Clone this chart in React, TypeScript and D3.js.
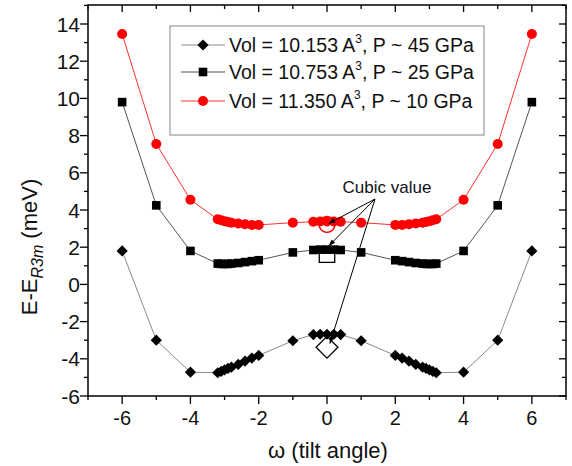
import React from "react";
import * as d3 from "d3";

const W = 572;
const H = 466;

const xValues = [
  -6, -5, -4,
  -3.2, -3.1, -3.0, -2.9, -2.8, -2.6, -2.4, -2.2, -2.0,
  -1,
  -0.4, -0.2, 0, 0.2, 0.4,
  1,
  2.0, 2.2, 2.4, 2.6, 2.8, 2.9, 3.0, 3.1, 3.2,
  4, 5, 6,
];

const vol10153 = [
  1.8, -3.0, -4.72,
  -4.75, -4.68, -4.6, -4.52, -4.45, -4.3, -4.12, -3.96, -3.82,
  -3.03,
  -2.7, -2.68, -2.68, -2.68, -2.7,
  -3.03,
  -3.82, -3.96, -4.12, -4.3, -4.45, -4.52, -4.6, -4.68, -4.75,
  -4.72, -3.0, 1.8,
];

const vol10753 = [
  9.8, 4.25, 1.8,
  1.12, 1.1, 1.1, 1.1, 1.12, 1.15, 1.2, 1.25, 1.3,
  1.72,
  1.85, 1.87, 1.87, 1.87, 1.85,
  1.72,
  1.3, 1.25, 1.2, 1.15, 1.12, 1.1, 1.1, 1.1, 1.12,
  1.8, 4.25, 9.8,
];

const vol11350 = [
  13.46, 7.55, 4.55,
  3.5, 3.45, 3.4, 3.36, 3.32, 3.27, 3.23, 3.2, 3.2,
  3.32,
  3.37, 3.38, 3.38, 3.38, 3.37,
  3.32,
  3.2, 3.2, 3.23, 3.27, 3.32, 3.36, 3.4, 3.45, 3.5,
  4.55, 7.55, 13.46,
];

const cubicX = 0;
const cubicValues = { diamond: -3.38, square: 1.6, circle: 3.23 };

const legendLabels = [
  { vol: "Vol = 10.153 A", p: ", P ~ 45 GPa" },
  { vol: "Vol = 10.753 A", p: ", P ~ 25 GPa" },
  { vol: "Vol = 11.350 A", p: ", P ~ 10 GPa" },
];

const xMajorTicks = [-6, -4, -2, 0, 2, 4, 6];
const yMajorTicks = [-6, -4, -2, 0, 2, 4, 6, 8, 10, 12, 14];

const FONT = "'Liberation Sans', Arial, Helvetica, sans-serif";

const left = 88;
const right = 566;
const top = 5;
const bottom = 396;

function Marker({ kind, x, y, fill = "#000", stroke = "none", size = 1, strokeWidth = 1 }: any) {
  if (kind === "diamond") {
    const r = 5.6 * size;
    return (
      <path
        d={`M${x},${y - r}L${x + r},${y}L${x},${y + r}L${x - r},${y}Z`}
        fill={fill}
        stroke={stroke}
        strokeWidth={strokeWidth}
      />
    );
  }
  if (kind === "square") {
    const s = 4.3 * size;
    return <rect x={x - s} y={y - s} width={2 * s} height={2 * s} fill={fill} stroke={stroke} strokeWidth={strokeWidth} />;
  }
  return <circle cx={x} cy={y} r={5 * size} fill={fill} stroke={stroke} strokeWidth={strokeWidth} />;
}

export default function App() {
  const x = d3.scaleLinear().domain([-7, 7]).range([left, right]);
  const y = d3.scaleLinear().domain([-6, 14]).range([bottom, 24]);

  const series = [
    { data: vol10153, kind: "diamond", line: "#8a8a8a", fill: "#000" },
    { data: vol10753, kind: "square", line: "#555", fill: "#000" },
    { data: vol11350, kind: "circle", line: "#ff3030", fill: "#ff0000" },
  ];

  const line = d3
    .line<number>()
    .x((_, i) => x(xValues[i]))
    .y((d) => y(d));

  const xMinor = d3.range(-7, 7.01, 1).filter((v) => !xMajorTicks.includes(v));
  const yMinor = d3.range(-5, 15.01, 1).filter((v) => !yMajorTicks.includes(v) && y(v) >= top);

  const arrowStart = { x: 375, y: 199 };
  const arrowTargets = [
    { x: x(cubicX) + 2, y: y(cubicValues.circle) - 1 },
    { x: x(cubicX) + 2, y: y(cubicValues.square) - 9 },
    { x: x(cubicX) + 3, y: y(cubicValues.diamond) - 4 },
  ];

  return (
    <svg
      width={W}
      height={H}
      style={{ position: "absolute", left: 0, top: 0, background: "#fff" }}
      fontFamily={FONT}
    >
      <defs>
        <marker id="ah" viewBox="0 0 10 10" refX="9" refY="5" markerWidth="7" markerHeight="7" orient="auto">
          <path d="M0,1.5L10,5L0,8.5Z" fill="#000" />
        </marker>
      </defs>
      <rect x={0} y={0} width={W} height={H} fill="#fff" />

      {series.map((s, k) => (
        <path key={"l" + k} d={line(s.data) || ""} fill="none" stroke={s.line} strokeWidth={1} />
      ))}
      {series.map((s, k) =>
        s.data.map((v, i) => (
          <Marker key={`m${k}-${i}`} kind={s.kind} x={x(xValues[i])} y={y(v)} fill={s.fill} />
        ))
      )}

      <Marker kind="diamond" x={x(cubicX)} y={y(cubicValues.diamond)} fill="none" stroke="#000" size={1.95} strokeWidth={1.3} />
      <Marker kind="square" x={x(cubicX)} y={y(cubicValues.square)} fill="none" stroke="#000" size={1.8} strokeWidth={1.3} />
      <Marker kind="circle" x={x(cubicX)} y={y(cubicValues.circle)} fill="none" stroke="#ff0000" size={1.6} strokeWidth={1.3} />

      {arrowTargets.map((t, i) => (
        <line
          key={"a" + i}
          x1={arrowStart.x}
          y1={arrowStart.y}
          x2={t.x}
          y2={t.y}
          stroke="#000"
          strokeWidth={1}
          markerEnd="url(#ah)"
        />
      ))}
      <text x={387} y={193} textAnchor="middle" fontSize={17} fill="#111">
        Cubic value
      </text>

      <rect x={left} y={top} width={right - left} height={bottom - top} fill="none" stroke="#000" strokeWidth={1.5} />

      {xMajorTicks.map((t) => (
        <g key={"xt" + t}>
          <line x1={x(t)} x2={x(t)} y1={bottom} y2={bottom + 8} stroke="#000" strokeWidth={1.3} />
          <line x1={x(t)} x2={x(t)} y1={top} y2={top + 7} stroke="#000" strokeWidth={1.3} />
          <text x={x(t)} y={425} textAnchor="middle" fontSize={20} fill="#111">
            {t}
          </text>
        </g>
      ))}
      {xMinor.map((t) => (
        <g key={"xm" + t}>
          <line x1={x(t)} x2={x(t)} y1={bottom} y2={bottom + 4} stroke="#000" strokeWidth={1.3} />
          <line x1={x(t)} x2={x(t)} y1={top} y2={top + 4} stroke="#000" strokeWidth={1.3} />
        </g>
      ))}

      {yMajorTicks.map((t) => (
        <g key={"yt" + t}>
          <line x1={left - 8} x2={left} y1={y(t)} y2={y(t)} stroke="#000" strokeWidth={1.3} />
          <line x1={right - 7} x2={right} y1={y(t)} y2={y(t)} stroke="#000" strokeWidth={1.3} />
          <text x={80} y={y(t) + 7.5} textAnchor="end" fontSize={21} fill="#111">
            {t}
          </text>
        </g>
      ))}
      {yMinor.map((t) => (
        <g key={"ym" + t}>
          <line x1={left - 4} x2={left} y1={y(t)} y2={y(t)} stroke="#000" strokeWidth={1.3} />
          <line x1={right - 4} x2={right} y1={y(t)} y2={y(t)} stroke="#000" strokeWidth={1.3} />
        </g>
      ))}

      <text x={328} y={458} textAnchor="middle" fontSize={22} fill="#111">
        ω (tilt angle)
      </text>
      <text transform="translate(37,247) rotate(-90)" textAnchor="middle" fontSize={22} fill="#111">
        E-E
        <tspan fontStyle="italic" fontSize={16} dy={6}>
          R3m
        </tspan>
        <tspan dy={-6}> (meV)</tspan>
      </text>

      <rect x={170} y={26} width={314} height={109} fill="#fff" stroke="#888" strokeWidth={1} />
      {series.map((s, k) => {
        const ly = [45, 72, 101][k];
        return (
          <g key={"lg" + k}>
            <line x1={181} x2={225} y1={ly} y2={ly} stroke={s.line} strokeWidth={1} />
            <Marker kind={s.kind} x={203} y={ly} fill={s.fill} />
            <text x={229} y={ly + 7} fontSize={19.5} fill="#111">
              {legendLabels[k].vol}
              <tspan fontSize={12} dy={-9}>3</tspan>
              <tspan dy={9}>{legendLabels[k].p}</tspan>
            </text>
          </g>
        );
      })}
    </svg>
  );
}
